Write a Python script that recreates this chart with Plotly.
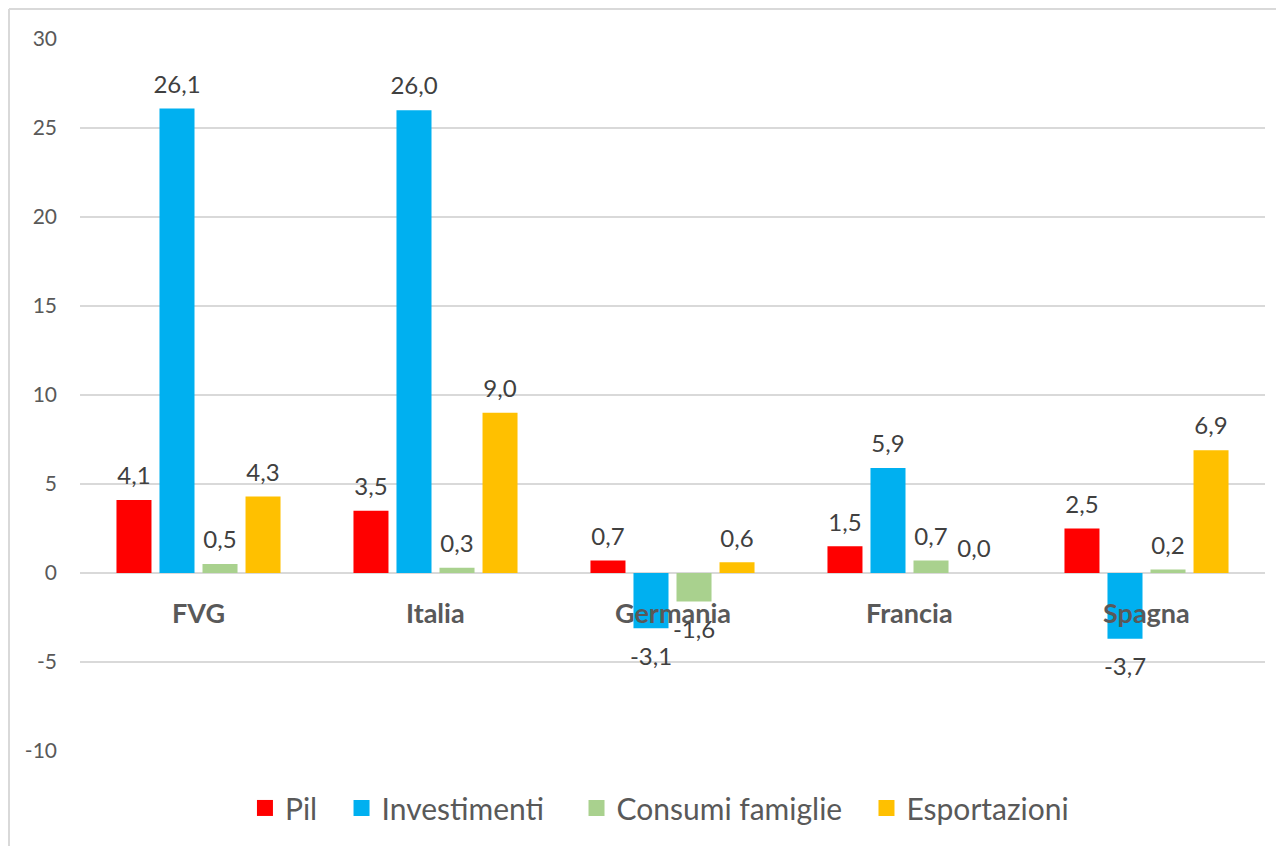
import plotly.graph_objects as go

categories = ["FVG", "Italia", "Germania", "Francia", "Spagna"]
pil = [4.1, 3.5, 0.7, 1.5, 2.5]
investimenti = [26.1, 26.0, -3.1, 5.9, -3.7]
consumi = [0.5, 0.3, -1.6, 0.7, 0.2]
esportazioni = [4.3, 9.0, 0.6, 0.0, 6.9]
series_names = ["Pil", "Investimenti", "Consumi famiglie", "Esportazioni"]
series_values = [pil, investimenti, consumi, esportazioni]
colors = ["#FF0000", "#00B0F0", "#A9D18E", "#FFC000"]
tick_vals = [-10, -5, 0, 5, 10, 15, 20, 25, 30]
tick_text = [str(v) for v in tick_vals]

FONT = "Lato"
fig = go.Figure()

for i, (name, vals, col) in enumerate(zip(series_names, series_values, colors)):
    fig.add_trace(go.Bar(
        x=categories, y=vals, name=name, marker_color=col,
        marker_line_width=0, offsetgroup=str(i), hoverinfo="skip",
        showlegend=False,
    ))

for i, (name, vals) in enumerate(zip(series_names, series_values)):
    txt = [f"{v:.1f}".replace(".", ",") for v in vals]
    pos = ["bottom center" if v < 0 else "top center" for v in vals]
    sizes = [28 if v < 0 else 14 for v in vals]
    fig.add_trace(go.Scatter(
        x=categories, y=vals, mode="markers+text", text=txt,
        textposition=pos, offsetgroup=str(i), showlegend=False,
        marker=dict(size=sizes, opacity=0), hoverinfo="skip",
        textfont=dict(family=FONT, size=24, color="#404040"),
        cliponaxis=False,
    ))

# legend entries with square swatches, each in its own legend for spacing
legend_ids = ["legend", "legend2", "legend3", "legend4"]
legend_x = [0.1392, 0.2207, 0.4190, 0.6637]
for name, col, lid in zip(series_names, colors, legend_ids):
    fig.add_trace(go.Scatter(
        x=[None], y=[None], mode="markers", name=name, legend=lid,
        marker=dict(symbol="square", size=18, color=col),
    ))

for c in categories:
    fig.add_annotation(x=c, y=0, yshift=-39, text=f"<b>{c}</b>", showarrow=False,
                       font=dict(family=FONT, size=27, color="#595959"))

# chart frame (left and top border)
fig.add_shape(type="line", xref="paper", yref="paper", x0=-0.0599, x1=-0.0599,
              y0=-0.135, y1=1.042, line=dict(color="#D9D9D9", width=2))
fig.add_shape(type="line", xref="paper", yref="paper", x0=-0.0599, x1=1.02,
              y0=1.042, y1=1.042, line=dict(color="#D9D9D9", width=2))

legend_style = {}
for lid, lx in zip(legend_ids, legend_x):
    legend_style[lid] = dict(orientation="h", x=lx, xanchor="left", y=-0.08,
                             yanchor="middle", bgcolor="rgba(0,0,0,0)",
                             font=dict(family=FONT, size=30, color="#595959"),
                             itemwidth=30)

fig.update_layout(
    width=1276, height=838,
    margin=dict(l=72, r=19, t=31, b=93),
    paper_bgcolor="white", plot_bgcolor="white",
    barmode="group", bargap=0.274, bargroupgap=0.186, scattermode="group",
    font=dict(family=FONT, color="#595959"),
    showlegend=True,
    xaxis=dict(showticklabels=False, showgrid=False, zeroline=False, showline=False,
               ticks=""),
    yaxis=dict(range=[-10, 30], tickvals=tick_vals, ticktext=tick_text,
               showgrid=True, gridcolor="#D9D9D9", gridwidth=1.5,
               zeroline=True, zerolinecolor="#D9D9D9", zerolinewidth=1.5,
               showline=False, ticks="", ticklabelstandoff=22,
               tickfont=dict(family=FONT, size=21, color="#595959")),
    **legend_style,
)

fig.write_html("out.html")
